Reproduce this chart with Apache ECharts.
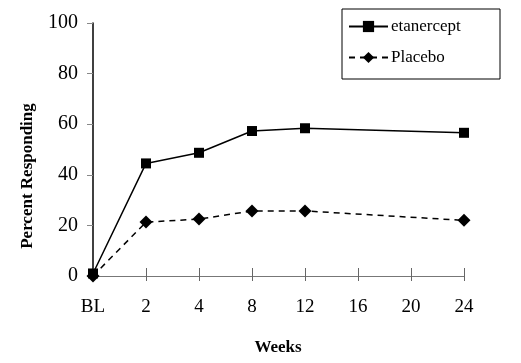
<!DOCTYPE html>
<html><head><meta charset="utf-8">
<script src="https://cdn.jsdelivr.net/npm/echarts@6/dist/echarts.min.js"></script>
<style>html,body{margin:0;padding:0;background:#fff}#c{width:521px;height:363px}</style>
</head><body><div id="c"></div>
<script>
const categories = ['BL','2','4','8','12','16','20','24'];
const etanercept = [1, 44.5, 48.7, 57.3, 58.4, null, null, 56.6];
const placebo = [0, 21.3, 22.5, 25.7, 25.7, null, null, 22.0];
const yTicks = [0, 20, 40, 60, 80, 100];

const font = 'Liberation Serif';
const chart = echarts.init(document.getElementById('c'));
chart.setOption({
  animation: false,
  grid: {left: 93, right: 57, top: 23, bottom: 87},
  legend: {
    orient: 'vertical', left: 348, top: 18, padding: 0, itemWidth: 39, itemHeight: 14, itemGap: 14,
    textStyle: {fontFamily: font, fontSize: 17, color: '#000', padding: [0,0,0,-2]},
    data: ['etanercept', 'Placebo']
  },
  graphic: [
    {type: 'rect', shape: {x: 342, y: 9, width: 158, height: 70}, style: {fill: 'none', stroke: '#000', lineWidth: 1}},
    {type: 'text', x: 28, y: 176, rotation: Math.PI/2, style: {text: 'Percent Responding', fontFamily: font, fontWeight: 'bold', fontSize: 17, fill: '#000', align: 'center', verticalAlign: 'middle'}},
    {type: 'text', x: 278, y: 348, style: {text: 'Weeks', fontFamily: font, fontWeight: 'bold', fontSize: 17, fill: '#000', align: 'center', verticalAlign: 'middle'}}
  ],
  xAxis: [{
    type: 'category', data: categories, boundaryGap: false,
    axisLine: {lineStyle: {color: '#777', width: 1}},
    axisTick: {show: true, length: 5, lineStyle: {color: '#666'}},
    axisLabel: {fontFamily: font, fontSize: 19, color: '#000', margin: 22, interval: 0},
    splitLine: {show: false}
  }, {
    type: 'category', data: categories, boundaryGap: false, position: 'bottom',
    axisLine: {show: false},
    axisTick: {show: true, inside: true, length: 8, lineStyle: {color: '#666'}},
    axisLabel: {show: false}, splitLine: {show: false}
  }],
  yAxis: {
    type: 'value', min: 0, max: 100, interval: 20,
    axisLine: {show: true, lineStyle: {color: '#000', width: 1.5}},
    axisTick: {show: true, length: 6, lineStyle: {color: '#888'}},
    axisLabel: {fontFamily: font, fontSize: 20, color: '#000', margin: 15,
      formatter: v => yTicks.includes(v) ? String(v) : ''},
    splitLine: {show: false}
  },
  series: [{
    name: 'etanercept', type: 'line', data: etanercept, connectNulls: true,
    symbol: 'rect', symbolSize: 10,
    lineStyle: {color: '#000', width: 1.5}, itemStyle: {color: '#000'}
  }, {
    name: 'Placebo', type: 'line', data: placebo, connectNulls: true,
    symbol: 'diamond', symbolSize: 13,
    lineStyle: {color: '#000', width: 1.5, type: [6, 5]}, itemStyle: {color: '#000'}
  }]
});
</script></body></html>
